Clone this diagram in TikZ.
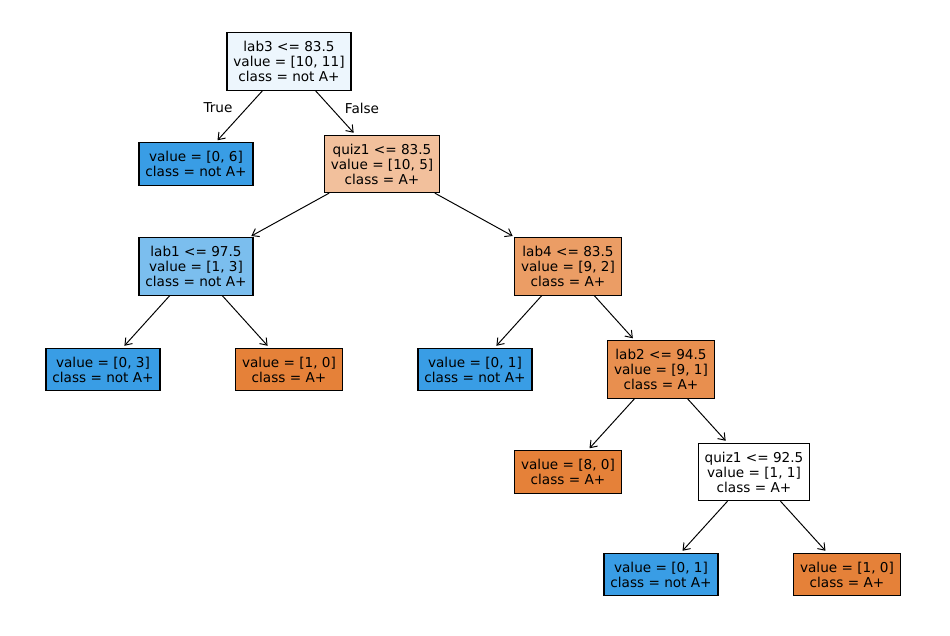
\documentclass[tikz,border=0pt]{standalone}
\usepackage{fontspec}
\setmainfont{DejaVu Sans}
\usetikzlibrary{arrows.meta}
\definecolor{rootc}{HTML}{EDF6FD}
\definecolor{quizc}{HTML}{F2C09C}
\definecolor{labonec}{HTML}{7BBEEE}
\definecolor{labfourc}{HTML}{EB9D65}
\definecolor{labtwoc}{HTML}{E88F4F}
\definecolor{orangec}{HTML}{E58139}
\definecolor{bluec}{HTML}{399DE5}
\begin{document}
\begin{tikzpicture}[x=0.72pt, y=-0.72pt,
  box/.style={rectangle, draw, line width=0.8pt, align=center, inner xsep=4.6pt, inner ysep=6pt,
    font=\fontsize{9.8}{10.8}\selectfont},
  edge/.style={-{Straight Barb[length=4.5pt,width=6.5pt]}, line width=0.7pt, shorten >=2pt}]
  \useasboundingbox (0,0) rectangle (950,636);
  \node (root) [box, fill=rootc] at (289,61.5) {lab3 <= 83.5\\value = [10, 11]\\class = not A+};
  \node (leafa) [box, fill=bluec] at (196,164) {value = [0, 6]\\class = not A+};
  \node (quiza) [box, fill=quizc] at (382,164) {quiz1 <= 83.5\\value = [10, 5]\\class = A+};
  \node (labone) [box, fill=labonec] at (196,266.5) {lab1 <= 97.5\\value = [1, 3]\\class = not A+};
  \node (labfour) [box, fill=labfourc] at (568,266.5) {lab4 <= 83.5\\value = [9, 2]\\class = A+};
  \node (leafb) [box, fill=bluec] at (103,369.5) {value = [0, 3]\\class = not A+};
  \node (leafc) [box, fill=orangec] at (289,369.5) {value = [1, 0]\\class = A+};
  \node (leafd) [box, fill=bluec] at (475,369.5) {value = [0, 1]\\class = not A+};
  \node (labtwo) [box, fill=labtwoc] at (661,369.5) {lab2 <= 94.5\\value = [9, 1]\\class = A+};
  \node (leafe) [box, fill=orangec] at (568,472) {value = [8, 0]\\class = A+};
  \node (quizb) [box, fill=white] at (754,472) {quiz1 <= 92.5\\value = [1, 1]\\class = A+};
  \node (leaff) [box, fill=bluec] at (661,574.5) {value = [0, 1]\\class = not A+};
  \node (leafg) [box, fill=orangec] at (847,574.5) {value = [1, 0]\\class = A+};
  \node (truelbl) [font=\fontsize{9.8}{10.8}\selectfont] at (218,108) {True};
  \node (falselbl) [font=\fontsize{9.8}{10.8}\selectfont] at (362,108) {False};
  \draw[edge] (root) -- (leafa);
  \draw[edge] (root) -- (quiza);
  \draw[edge] (quiza) -- (labone);
  \draw[edge] (quiza) -- (labfour);
  \draw[edge] (labone) -- (leafb);
  \draw[edge] (labone) -- (leafc);
  \draw[edge] (labfour) -- (leafd);
  \draw[edge] (labfour) -- (labtwo);
  \draw[edge] (labtwo) -- (leafe);
  \draw[edge] (labtwo) -- (quizb);
  \draw[edge] (quizb) -- (leaff);
  \draw[edge] (quizb) -- (leafg);
\end{tikzpicture}
\end{document}
